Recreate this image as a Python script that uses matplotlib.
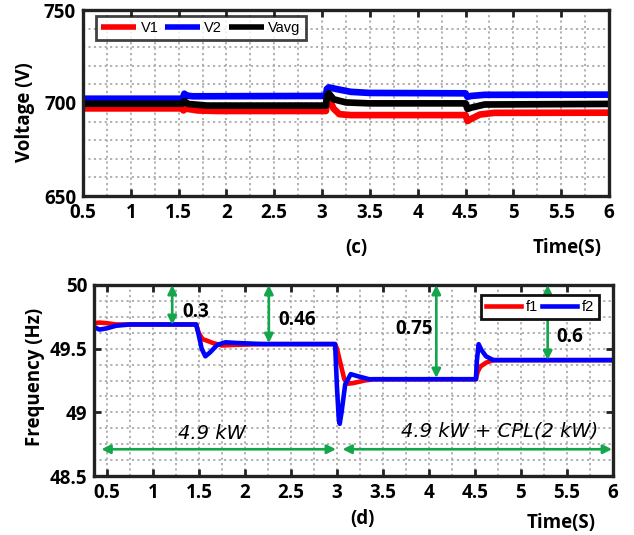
import matplotlib
matplotlib.use("Agg")
import matplotlib.pyplot as plt
from matplotlib.ticker import MultipleLocator

# ---------------- data ----------------
t_v2 = [0.5, 1.54, 1.56, 1.58, 1.65, 3.04, 3.05, 3.07, 3.15, 3.3, 3.5, 4.5, 4.52, 4.56, 4.7, 6.0]
v2 = [702.3, 702.3, 705.0, 704.0, 703.6, 703.8, 707.5, 708.4, 707.5, 706.0, 705.4, 705.2, 703.3, 703.8, 704.4, 704.5]

t_vavg = [0.5, 1.54, 1.56, 1.6, 1.8, 3.04, 3.05, 3.07, 3.12, 3.25, 3.5, 4.5, 4.52, 4.56, 4.7, 6.0]
vavg = [699.6, 699.6, 701.0, 699.5, 698.6, 698.6, 703.5, 705.2, 702.0, 700.3, 699.8, 699.8, 696.8, 697.5, 699.2, 699.5]

t_v1 = [0.5, 1.54, 1.55, 1.57, 1.7, 1.9, 3.04, 3.05, 3.07, 3.12, 3.18, 3.3, 4.5, 4.52, 4.56, 4.65, 4.8, 6.0]
v1 = [697.1, 697.1, 696.0, 697.0, 696.0, 695.7, 695.7, 701.5, 702.5, 697.0, 694.0, 693.5, 693.5, 690.3, 691.5, 693.8, 694.7, 694.8]

t_f2 = [0.36, 0.42, 0.5, 0.6, 0.75, 1.47, 1.5, 1.53, 1.57, 1.62, 1.7, 1.79, 1.9, 2.2, 2.98, 3.0, 3.02, 3.03,
        3.05, 3.09, 3.15, 3.22, 3.35, 4.51, 4.52, 4.54, 4.57, 4.62, 4.70, 6.0]
f2 = [49.67, 49.65, 49.66, 49.68, 49.69, 49.69, 49.60, 49.50, 49.44, 49.47, 49.53, 49.55, 49.545, 49.536, 49.536,
      49.20, 48.95, 48.91, 49.00, 49.22, 49.30, 49.285, 49.26, 49.26, 49.40, 49.535, 49.49, 49.44, 49.41, 49.41]

t_f1 = [0.36, 0.42, 0.5, 0.6, 1.47, 1.5, 1.54, 1.58, 1.65, 1.75, 1.9, 2.2, 2.98, 3.0, 3.04, 3.08, 3.12, 3.18,
        3.3, 3.4, 4.51, 4.53, 4.56, 4.62, 4.70, 6.0]
f1 = [49.70, 49.705, 49.70, 49.69, 49.69, 49.62, 49.575, 49.565, 49.545, 49.525, 49.53, 49.536, 49.536, 49.50,
      49.38, 49.26, 49.225, 49.23, 49.25, 49.26, 49.26, 49.32, 49.36, 49.39, 49.41, 49.41]

x_ticks = [0.5, 1, 1.5, 2, 2.5, 3, 3.5, 4, 4.5, 5, 5.5, 6]
x_ticklabels = ["0.5", "1", "1.5", "2", "2.5", "3", "3.5", "4", "4.5", "5", "5.5", "6"]
v_ticks = [650, 700, 750]
f_ticks = [48.5, 49, 49.5, 50]
f_ticklabels = ["48.5", "49", "49.5", "50"]

# deviation annotations: x position, curve level, label, label x, label y
dev_x = [1.21, 2.26, 4.08, 5.29]
dev_level = [49.686, 49.544, 49.27, 49.41]
dev_labels = ["0.3", "0.46", "0.75", "0.6"]
dev_lx = [1.47, 2.57, 3.84, 5.53]
dev_ly = [49.79, 49.725, 49.655, 49.595]

# load intervals
load_start = [0.44, 3.06]
load_end = [2.99, 5.99]
load_y = 48.71
load_labels = ["4.9 kW", "4.9 kW + CPL(2 kW)"]
load_lx = [1.64, 4.77]
load_ly = [48.835, 48.855]

# ---------------- style ----------------
W, H = 634, 535
fig = plt.figure(figsize=(W / 100, H / 100), dpi=100)
TF = "Open Sans"
LF = "Liberation Sans"
green = "#14a64b"
grid_kw = dict(color="#aaaaaa", linestyle=(0, (1.2, 1.8)), linewidth=1.3)
TS = 13.5


def fr(x0, y0, x1, y1):
    return [x0 / W, 1 - y1 / H, (x1 - x0) / W, (y1 - y0) / H]


def style_axes(ax):
    for s in ax.spines.values():
        s.set_linewidth(2.4)
        s.set_color("#222222")
    ax.tick_params(which="major", direction="in", length=5, width=2.0,
                   top=True, right=True, color="#222222", pad=5)
    ax.tick_params(which="minor", length=0)
    ax.xaxis.set_minor_locator(MultipleLocator(0.25))
    ax.grid(True, which="both", **grid_kw)
    ax.set_axisbelow(True)
    for lab in ax.get_xticklabels() + ax.get_yticklabels():
        lab.set_fontfamily(TF)
        lab.set_fontweight("bold")
        lab.set_fontsize(TS)


# ---------------- upper plot ----------------
ax1 = fig.add_axes(fr(83, 10, 609, 196))
ax1.plot(t_v1, v1, color="#ff0000", lw=4.8, label="V1", solid_capstyle="butt")
ax1.plot(t_v2, v2, color="#0000ff", lw=4.8, label="V2", solid_capstyle="butt")
ax1.plot(t_vavg, vavg, color="#000000", lw=4.8, label="Vavg", solid_capstyle="butt")
ax1.set_xlim(0.5, 6.0)
ax1.set_ylim(650, 750)
ax1.set_xticks(x_ticks)
ax1.set_xticklabels(x_ticklabels)
ax1.set_yticks(v_ticks)
ax1.set_yticklabels([str(v) for v in v_ticks])
ax1.yaxis.set_minor_locator(MultipleLocator(10))
style_axes(ax1)
leg1 = ax1.legend(loc="upper left", bbox_to_anchor=(96 / W, 1 - 16 / H), bbox_transform=fig.transFigure,
                  ncol=3, frameon=True, fancybox=False, prop={"family": LF, "size": 10.5},
                  handlelength=2.4, handletextpad=0.3, columnspacing=0.45, borderpad=0.35,
                  borderaxespad=0)
leg1.get_frame().set_edgecolor("#111111")
leg1.get_frame().set_linewidth(2.0)
for ln in leg1.get_lines():
    ln.set_linewidth(4)

fig.text(25 / W, 1 - 112 / H, "Voltage (V)", rotation=90, ha="center", va="center",
         family=TF, weight="bold", fontsize=TS)
fig.text(356 / W, 1 - 248 / H, "(c)", ha="center", va="center", family=TF, weight="bold", fontsize=TS)
fig.text(602 / W, 1 - 248 / H, "Time(S)", ha="right", va="center", family=TF, weight="bold", fontsize=TS)

# ---------------- lower plot ----------------
ax2 = fig.add_axes(fr(94, 285, 613, 476))
ax2.plot(t_f1, f1, color="#ff0000", lw=3.3, label="f1")
ax2.plot(t_f2, f2, color="#0000ff", lw=3.3, label="f2")
ax2.set_xlim(0.36, 6.0)
ax2.set_ylim(48.5, 50)
ax2.set_xticks(x_ticks)
ax2.set_xticklabels(x_ticklabels)
ax2.set_yticks(f_ticks)
ax2.set_yticklabels(f_ticklabels)
ax2.yaxis.set_minor_locator(MultipleLocator(0.125))
style_axes(ax2)

for xx, lv, lab, lx, ly in zip(dev_x, dev_level, dev_labels, dev_lx, dev_ly):
    ax2.annotate("", xy=(xx, lv), xytext=(xx, 50.0),
                 arrowprops=dict(arrowstyle="<|-|>", color=green, lw=1.9, mutation_scale=13,
                                 shrinkA=0, shrinkB=0))
    ax2.text(lx, ly, lab, ha="center", va="center", family=TF, weight="bold", fontsize=TS)

for xs, xe in zip(load_start, load_end):
    ax2.annotate("", xy=(xe, load_y), xytext=(xs, load_y),
                 arrowprops=dict(arrowstyle="<|-|>", color=green, lw=1.9, mutation_scale=13,
                                 shrinkA=0, shrinkB=0))
for lab, lx, ly in zip(load_labels, load_lx, load_ly):
    ax2.text(lx, ly, lab, ha="center", va="center", family="DejaVu Sans", style="italic", fontsize=14)

leg2 = ax2.legend(loc="upper left", bbox_to_anchor=(481 / W, 1 - 295 / H), bbox_transform=fig.transFigure,
                  ncol=2, frameon=True, fancybox=False, prop={"family": LF, "size": 10.5},
                  handlelength=2.4, handletextpad=0.3, columnspacing=0.3, borderpad=0.35,
                  borderaxespad=0, framealpha=1)
leg2.get_frame().set_edgecolor("#111111")
leg2.get_frame().set_linewidth(2.0)
for ln in leg2.get_lines():
    ln.set_linewidth(3.3)

fig.text(35 / W, 1 - 377 / H, "Frequency (Hz)", rotation=90, ha="center", va="center",
         family=TF, weight="bold", fontsize=TS)
fig.text(362 / W, 1 - 519 / H, "(d)", ha="center", va="center", family=TF, weight="bold", fontsize=TS)
fig.text(596 / W, 1 - 523 / H, "Time(S)", ha="right", va="center", family=TF, weight="bold", fontsize=TS)

fig.savefig("out.png", dpi=100)
